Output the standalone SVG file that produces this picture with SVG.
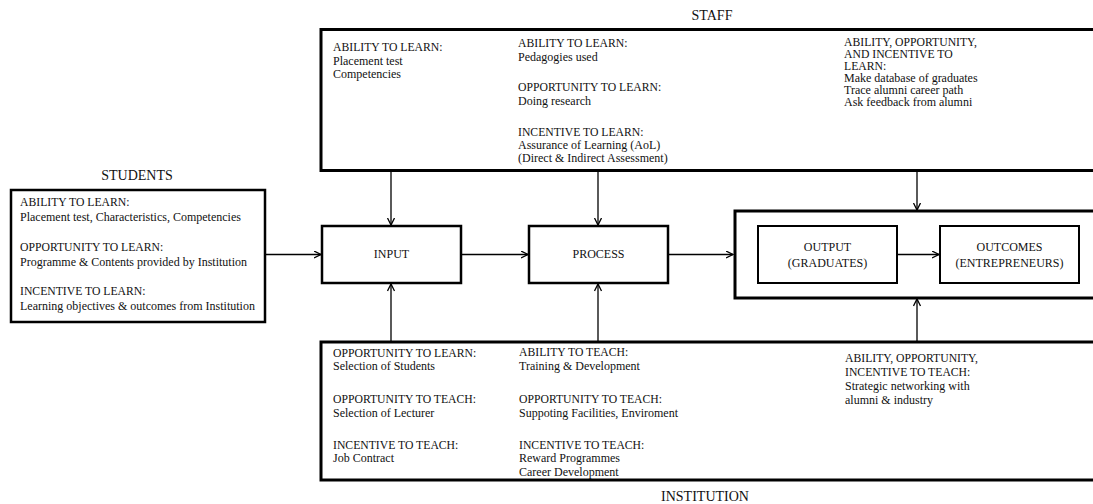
<svg xmlns="http://www.w3.org/2000/svg" width="1093" height="504" viewBox="0 0 1093 504">
  <style>
    text { font-family: "Liberation Serif", "Times New Roman", serif; fill: #111; }
    .hd { font-size: 11.7px; }
    .tx { font-size: 12px; }
    .lbl { font-size: 14px; text-anchor: middle; }
    .bx { font-size: 12px; text-anchor: middle; }
    .frame { fill: none; stroke: #000; stroke-width: 3; }
    .box { fill: #fff; stroke: #000; stroke-width: 2.5; }
    .inner { fill: #fff; stroke: #000; stroke-width: 2; }
    .arrow { fill: none; stroke: #000; stroke-width: 1.3; marker-end: url(#head); }
  </style>
  <defs>
    <marker id="head" markerUnits="userSpaceOnUse" markerWidth="10" markerHeight="10" refX="7.5" refY="4" orient="auto">
      <path d="M0.5,0.5 L7.5,4 L0.5,7.5" fill="none" stroke="#000" stroke-width="1.3"/>
    </marker>
  </defs>
  <rect width="1093" height="504" fill="#fff"/>

  <!-- connectors -->
  <g id="connectors">
    <line class="arrow" x1="265" y1="254.5" x2="321" y2="254.5"/>
    <line class="arrow" x1="461" y1="254.5" x2="528" y2="254.5"/>
    <line class="arrow" x1="668" y1="254.5" x2="733" y2="254.5"/>
    <line class="arrow" x1="897" y1="254.5" x2="939" y2="254.5"/>
    <line class="arrow" x1="391" y1="171" x2="391" y2="225"/>
    <line class="arrow" x1="598" y1="171" x2="598" y2="225"/>
    <line class="arrow" x1="917" y1="171" x2="917" y2="210"/>
    <line class="arrow" x1="391" y1="341" x2="391" y2="284"/>
    <line class="arrow" x1="598" y1="341" x2="598" y2="284"/>
    <line class="arrow" x1="917" y1="341" x2="917" y2="299"/>
  </g>

  <!-- staff -->
  <g id="staff">
    <text class="lbl" x="712" y="20">STAFF</text>
    <rect class="frame" x="321" y="29.5" width="790" height="141"/>
    <text class="hd" x="333" y="51">ABILITY  TO LEARN:</text>
    <text class="tx" x="333" y="65">Placement test</text>
    <text class="tx" x="333" y="78">Competencies</text>
    <text class="hd" x="518" y="47">ABILITY  TO LEARN:</text>
    <text class="tx" x="518" y="61">Pedagogies used</text>
    <text class="hd" x="518" y="91">OPPORTUNITY TO LEARN:</text>
    <text class="tx" x="518" y="105">Doing research</text>
    <text class="hd" x="518" y="136">INCENTIVE TO LEARN:</text>
    <text class="tx" x="518" y="149">Assurance of Learning (AoL)</text>
    <text class="tx" x="518" y="162">(Direct &amp; Indirect Assessment)</text>
    <text class="hd" x="844" y="46">ABILITY, OPPORTUNITY,</text>
    <text class="hd" x="844" y="58">AND INCENTIVE TO</text>
    <text class="hd" x="844" y="70">LEARN:</text>
    <text class="tx" x="844" y="82">Make database of graduates</text>
    <text class="tx" x="844" y="94">Trace alumni career path</text>
    <text class="tx" x="844" y="106">Ask feedback  from alumni</text>
  </g>

  <!-- students -->
  <g id="students">
    <text class="lbl" x="137" y="180">STUDENTS</text>
    <rect class="box" x="11" y="190" width="254" height="132"/>
    <text class="hd" x="20" y="206">ABILITY  TO LEARN:</text>
    <text class="tx" x="20" y="221">Placement test, Characteristics, Competencies</text>
    <text class="hd" x="20" y="251">OPPORTUNITY TO LEARN:</text>
    <text class="tx" x="20" y="266">Programme &amp; Contents provided by Institution</text>
    <text class="hd" x="20" y="295">INCENTIVE  TO LEARN:</text>
    <text class="tx" x="20" y="310">Learning  objectives &amp; outcomes from Institution</text>
  </g>

  <!-- input -->
  <g id="input">
    <rect class="box" x="322" y="226" width="139" height="57"/>
    <text class="bx" x="391.5" y="258">INPUT</text>
  </g>

  <!-- process -->
  <g id="process">
    <rect class="box" x="529" y="226" width="139" height="57"/>
    <text class="bx" x="598.5" y="258">PROCESS</text>
  </g>

  <!-- results frame holding output and outcomes -->
  <g id="results">
    <rect class="frame" x="735" y="211" width="380" height="87"/>
  </g>

  <g id="output">
    <rect class="inner" x="758" y="226" width="139" height="57"/>
    <text class="bx" x="827.5" y="251">OUTPUT</text>
    <text class="bx" x="827.5" y="267">(GRADUATES)</text>
  </g>

  <g id="outcomes">
    <rect class="inner" x="940" y="226" width="139" height="57"/>
    <text class="bx" x="1009.5" y="251">OUTCOMES</text>
    <text class="bx" x="1009.5" y="267">(ENTREPRENEURS)</text>
  </g>

  <!-- institution -->
  <g id="institution">
    <rect class="frame" x="321" y="342" width="790" height="138"/>
    <text class="hd" x="333" y="357">OPPORTUNITY TO LEARN:</text>
    <text class="tx" x="333" y="370">Selection of Students</text>
    <text class="hd" x="333" y="403">OPPORTUNITY TO TEACH:</text>
    <text class="tx" x="333" y="417">Selection of Lecturer</text>
    <text class="hd" x="333" y="449">INCENTIVE TO TEACH:</text>
    <text class="tx" x="333" y="462">Job Contract</text>
    <text class="hd" x="519" y="356">ABILITY  TO TEACH:</text>
    <text class="tx" x="519" y="370">Training &amp; Development</text>
    <text class="hd" x="519" y="403">OPPORTUNITY TO TEACH:</text>
    <text class="tx" x="519" y="417">Suppoting Facilities, Enviroment</text>
    <text class="hd" x="519" y="449">INCENTIVE TO TEACH:</text>
    <text class="tx" x="519" y="462">Reward Programmes</text>
    <text class="tx" x="519" y="476">Career Development</text>
    <text class="hd" x="845" y="362">ABILITY, OPPORTUNITY,</text>
    <text class="hd" x="845" y="376">INCENTIVE TO TEACH:</text>
    <text class="tx" x="845" y="390">Strategic networking with</text>
    <text class="tx" x="845" y="404">alumni &amp; industry</text>
    <text class="lbl" x="705" y="501">INSTITUTION</text>
  </g>
</svg>
